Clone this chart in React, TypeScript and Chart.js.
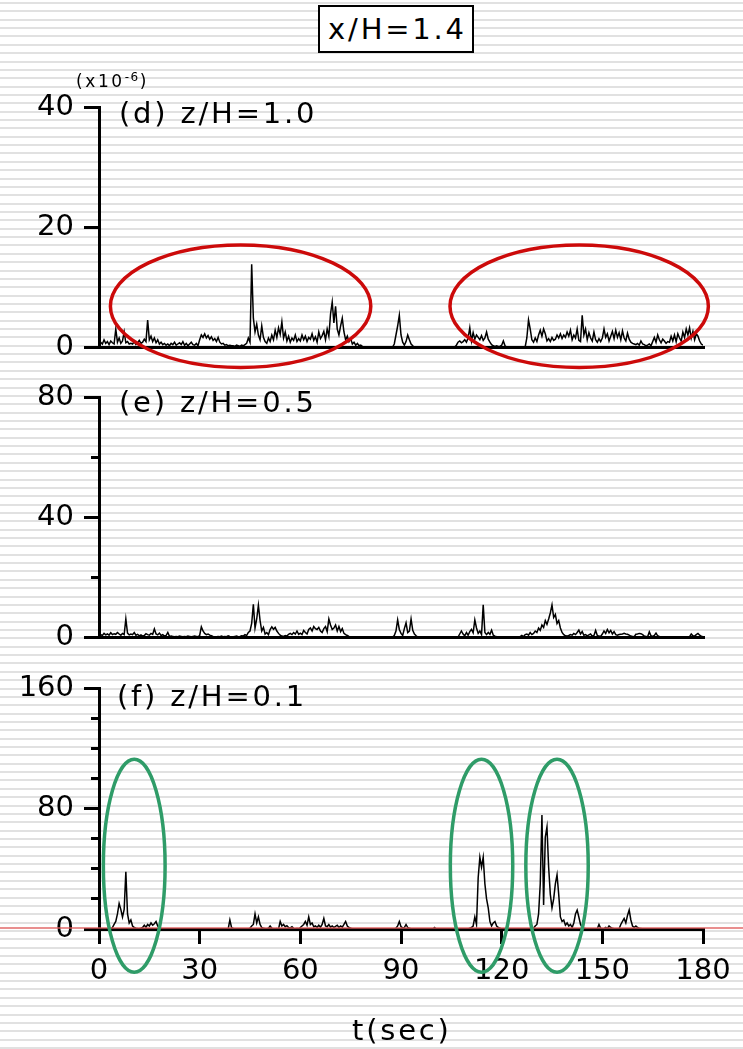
import React, { useEffect, useRef } from "react";
import { Chart, registerables } from "chart.js";

Chart.register(...registerables);

// ---------------- data ----------------
const T_STEP = 0.5; // seconds between samples, series start at t = 0
const T_MIN = 0;
const T_MAX = 180;
const X_TICKS = [0, 30, 60, 90, 120, 150, 180];

// (d) z/H=1.0  (x10^-6)
const SERIES_D = [
  0.3,0.8,0.5,1.2,0.6,0.9,0.4,1.0,0.7,0.5,3.0,0.8,1.5,0.6,1.0,2.5,0.7,0.9,0.5,0.6,
  0.5,0.9,0.4,0.7,1.1,0.6,0.8,1.3,0.9,4.5,1.2,1.8,0.9,1.5,0.7,1.2,0.5,0.8,0.4,0.6,
  0.3,0.5,0.2,0.6,0.4,0.8,0.3,0.5,0.7,0.4,0.9,0.3,0.6,0.2,0.5,0.8,0.4,0.3,0.6,0.2,
  1.2,2.0,1.6,2.2,1.5,1.9,1.3,1.7,1.1,1.4,0.9,1.6,0.8,0.5,0.6,0.3,0.4,0.2,0.3,0.2,
  0.2,0.1,0.3,0.2,0.1,0.3,0.2,0.4,0.6,1.5,0.8,13.8,4.8,2.5,3.8,2.0,1.2,3.5,1.6,0.9,
  0.6,1.5,0.9,2.0,1.2,2.8,1.6,3.2,2.1,4.2,1.5,2.5,1.0,1.8,0.8,1.5,1.1,2.0,0.9,1.4,
  1.0,2.0,1.2,1.8,0.9,1.6,1.3,2.2,1.1,1.7,0.8,2.5,1.4,1.9,2.6,1.2,3.0,1.8,5.5,7.5,
  4.0,6.8,3.0,2.0,3.5,4.8,2.5,1.2,1.8,0.9,1.4,0.5,0.8,0.3,0.6,0.2,0.3,0.1,0,0,
  0,0,0,0,0,0,0,0,0,0,0,0,0,0,0,0,0.5,2.0,3.5,5.3,
  2.0,0.8,0.3,0.9,2.0,1.2,0.5,0.2,0,0,0,0,0,0,0,0,0,0,0,0,
  0,0,0,0,0,0,0,0,0,0,0,0,0,0.3,0.8,1.0,0.7,0.9,1.2,0.8,
  1.5,3.2,1.0,2.4,1.3,2.0,1.6,1.2,1.9,1.1,1.5,2.5,1.3,0.8,0.4,0.2,0.1,0.2,0.1,0.1,
  0.3,1.0,0.2,0,0,0,0,0,0,0,0,0,0,0,0,1.5,4.5,3.0,1.2,0.8,
  1.5,0.9,2.0,2.8,1.8,3.0,2.2,1.0,1.4,0.9,1.6,1.1,1.3,2.0,1.5,2.2,1.4,2.0,1.6,2.5,
  1.8,2.8,1.2,2.0,1.5,3.0,1.1,0.9,5.3,2.0,3.0,1.2,2.4,1.5,1.0,2.5,1.2,0.8,1.4,0.9,
  1.5,3.0,1.6,2.2,1.0,1.8,2.6,1.4,2.8,1.6,2.4,1.2,2.7,1.5,1.0,2.3,1.3,0.8,0.6,0.5,
  0.4,0.6,0.3,1.0,0.5,0.4,0.2,0.3,0.5,0.2,0.9,1.6,0.8,2.0,1.2,0.7,1.3,1.0,0.6,0.9,
  0.8,1.8,1.0,2.0,0.9,2.2,1.5,1.0,2.5,1.6,3.0,2.0,3.2,1.5,2.6,1.2,2.2,1.8,1.0,0.5,
  0.3,
];

// (e) z/H=0.5
const SERIES_E = [
  0.3,0.8,0.5,1.2,0.7,1.0,0.6,1.4,0.8,1.1,0.9,1.5,1.0,0.6,1.2,0.8,6.0,1.3,0.7,1.0,
  0.8,1.5,0.6,0.9,0.4,0.7,0.3,0.5,1.1,0.8,0.6,1.2,0.9,2.7,1.0,0.7,1.3,0.5,0.8,0.3,
  0.5,1.5,0.2,0.3,0.2,0.1,0.2,0.1,0.3,0.2,0.1,0.2,0.1,0.3,0.2,0.1,0.2,0.3,0.2,0.1,
  0.5,3.4,2.0,1.2,0.8,1.0,0.6,0.4,0.2,0.1,0.1,0.2,0.1,0.3,0.1,0.2,0.1,0.4,0.2,0.1,
  0.1,0.2,0.3,0.1,0.2,0.4,0.3,0.8,0.5,1.5,2.0,4.5,10.9,3.0,6.0,10.6,5.5,2.0,3.2,1.0,
  1.5,0.8,2.5,3.4,2.6,3.2,2.0,1.2,0.6,0.3,0.2,0.5,0.3,0.9,1.2,0.8,1.5,1.0,2.0,0.9,
  1.3,0.8,2.2,1.5,1.0,2.5,3.0,2.0,3.5,2.8,2.5,3.2,2.0,1.5,2.8,3.5,1.8,6.0,4.0,2.5,
  3.0,4.0,2.0,3.5,1.8,2.8,1.2,0.8,0.5,0.2,0.1,0,0,0,0,0,0,0,0,0,
  0,0,0,0,0,0,0,0,0,0,0,0,0,0,0,0,0.5,2.0,5.7,2.5,
  1.2,0.5,2.8,4.7,1.5,2.0,6.0,2.2,1.0,0.4,0,0,0,0,0,0,0,0,0,0,
  0,0,0,0,0,0,0,0,0,0,0,0,0,0,0,1.0,2.0,1.0,0.4,1.5,
  0.6,1.8,2.5,1.4,5.7,3.0,1.2,2.0,0.8,10.7,1.5,0.8,1.5,0.9,2.3,0.6,0.3,0.1,0.1,0.1,
  0.1,0.1,0.1,0.1,0.1,0.1,0.1,0.1,0.1,0.1,0.1,0.1,0.5,0.1,0.8,1.0,0.6,1.5,0.8,1.2,
  2.0,1.5,3.0,2.2,4.0,3.2,5.5,4.2,6.0,8.0,10.7,6.5,7.5,4.5,5.5,3.0,1.5,0.8,0.4,0.3,
  0.5,0.8,0.6,1.2,0.8,1.5,2.3,1.0,1.8,0.6,0.8,0.4,0.7,1.0,0.3,0.5,2.2,0.5,0.3,0.2,
  1.0,2.0,1.2,2.5,1.4,2.2,1.0,1.8,0.8,0.6,0.8,0.9,1.0,1.2,1.0,0.9,0.6,0.3,0.2,0.1,
  0.9,1.0,1.2,1.1,0.8,0.3,0.2,0.1,1.7,0.4,0.2,0.5,1.3,0.4,0.2,0.1,0.1,0.1,0.1,0.1,
  0.1,0.1,0.1,0.1,0.1,0.1,0.1,0.1,0.1,0.1,0.1,0.1,0.1,1.0,0.4,0.3,0.8,1.2,0.6,0.3,
  0.1,
];

// (f) z/H=0.1
const SERIES_F = [
  0,0,0,0,0,0,0,0,1.0,3.0,5.0,10.0,17.0,13.0,8.0,13.0,38.0,10.0,4.0,6.0,
  2.0,1.0,0.5,0.3,0.2,0.5,1.0,2.5,1.2,3.0,2.0,4.0,2.5,3.5,5.0,2.0,0.8,0.3,0,0,
  0,0,0,0,0,0,0,0,0,0,0,0,0,0,0,0,0,0,0,0,
  0,0,0,0,0,0,0,0,0,0,0,0,0,0,0,0,0,0,6.0,1.0,
  0.3,0,0,0,0,0,0,0,0,0,0.5,2.0,3.0,10.0,4.0,8.0,3.0,1.0,0.5,0.3,
  0.2,0.5,2.0,0.5,0.2,0,0.3,0,5.0,2.0,3.0,1.5,2.2,1.0,0.8,1.5,0.4,0.2,0.3,0.1,
  1.0,2.0,3.0,5.0,2.5,8.0,3.0,4.0,1.5,2.0,1.0,2.5,1.2,3.0,7.0,2.0,1.5,3.0,1.2,2.0,
  1.0,1.8,2.5,1.0,2.0,1.2,3.0,5.0,2.0,1.0,0.5,0.2,0,0,0,0,0,0,0,0,
  0,0,0,0,0,0,0,0,0,0,0,0,0,0,0,0,0,0.5,2.0,5.0,
  1.5,0.8,1.0,3.0,1.0,0.5,0.2,0,0,0,0,0,0,0,0,0,0,0,0,0,
  1.0,0,0,0,0,0,0,0,0,0,0,0,0,0,0,0,0,0,0,0,
  0,0.5,1.0,2.0,8.0,3.0,34.0,47.6,41.0,47.6,30.0,20.0,14.0,5.0,2.0,4.0,5.0,2.0,1.0,0.5,
  0,0,0,0,0,0,0,0,0,0,0,0,0,0,0,0,0,0,0.3,0.5,
  2.0,3.0,10.0,30.0,75.7,16.0,61.0,67.7,41.0,23.0,14.0,20.0,30.0,36.0,23.0,8.0,5.0,6.0,2.5,4.0,
  2.0,3.0,1.0,4.0,10.0,12.6,8.0,3.0,1.0,0.5,0.3,0.2,0.2,0.2,0.2,0.2,0.2,0.2,3.0,0.5,
  0.3,0.2,1.0,0.2,2.0,1.0,0.5,0.2,0.2,0.2,0.2,3.0,5.0,7.0,4.0,9.0,12.6,6.0,2.0,1.0,
  2.0,1.0,0.5,0.3,0,0,0,0,0,0,0,0,0,0,0,0,0,0,0,0,
  0,0,0,0,0,0,0,0,0,0,0,0,0,0,0,0,0,0,0,0,
  0,
];

// highlight ellipses in data units: centre t, centre value, half-width (s), half-height (value)
const ELLIPSES_D = [
  { t: 42.2, v: 6.8, dt: 38.8, dv: 10.2 },
  { t: 143.1, v: 6.8, dt: 38.5, dv: 10.2 },
];
const ELLIPSES_F = [
  { t: 10.5, v: 42.0, dt: 9.2, dv: 70.7 },
  { t: 114.0, v: 42.0, dt: 9.3, dv: 70.7 },
  { t: 136.5, v: 42.0, dt: 9.3, dv: 70.7 },
];

// ---------------- styling / layout ----------------
const FONT = "'DejaVu Sans', 'Liberation Sans', sans-serif";
const W = 743;

const overlayPlugin = {
  id: "overlay",
  afterDraw(chart: any, _args: any, opts: any) {
    const { ctx } = chart;
    const xs = chart.scales.x;
    const ys = chart.scales.y;
    ctx.save();
    if (opts.zeroLine) {
      const y0 = ys.getPixelForValue(0) - 1;
      ctx.strokeStyle = opts.zeroLine;
      ctx.lineWidth = 1.3;
      ctx.beginPath();
      ctx.moveTo(0, y0);
      ctx.lineTo(chart.width, y0);
      ctx.stroke();
    }
    (opts.ellipses || []).forEach((e: any) => {
      const cx = xs.getPixelForValue(e.t);
      const cy = ys.getPixelForValue(e.v);
      const rx = Math.abs(xs.getPixelForValue(e.t + e.dt) - cx);
      const ry = Math.abs(ys.getPixelForValue(e.v + e.dv) - cy);
      ctx.strokeStyle = opts.ellipseColor;
      ctx.lineWidth = 3.5;
      ctx.beginPath();
      ctx.ellipse(cx, cy, rx, ry, 0, 0, Math.PI * 2);
      ctx.stroke();
    });
    ctx.restore();
  },
};

type Panel = {
  values: number[];
  yMax: number;
  majorStep: number;
  minorStep: number | null;
  showX: boolean;
  top: number;
  height: number;
  padTop: number;
  padBottom: number;
  ellipses: any[];
  ellipseColor: string;
  zeroLine: string | null;
};

// chart areas: (d) y 107..347, (e) y 397..637, (f) y 688..929, x 99..703
const PANELS: Panel[] = [
  { values: SERIES_D, yMax: 40, majorStep: 20, minorStep: null, showX: false, top: 50, height: 360, padTop: 57, padBottom: 63, ellipses: ELLIPSES_D, ellipseColor: "#cc0a0a", zeroLine: null },
  { values: SERIES_E, yMax: 80, majorStep: 40, minorStep: 20, showX: false, top: 340, height: 360, padTop: 57, padBottom: 63, ellipses: [], ellipseColor: "#000", zeroLine: null },
  { values: SERIES_F, yMax: 160, majorStep: 80, minorStep: 20, showX: true, top: 630, height: 419, padTop: 58, padBottom: 50, ellipses: ELLIPSES_F, ellipseColor: "#2f9c68", zeroLine: "rgba(222,90,90,0.9)" },
];

function buildChart(canvas: HTMLCanvasElement, p: Panel) {
  const data = p.values.map((v, i) => ({ x: T_MIN + i * T_STEP, y: v }));
  const scales: any = {
    x: {
      type: "linear",
      min: T_MIN,
      max: T_MAX,
      position: "bottom",
      afterBuildTicks: (s: any) => {
        s.ticks = X_TICKS.map((v) => ({ value: v }));
      },
      ticks: {
        display: p.showX,
        autoSkip: false,
        maxRotation: 0,
        color: "#000",
        padding: 10,
        font: { family: FONT, size: 29 },
      },
      grid: { display: p.showX, drawOnChartArea: false, tickLength: 15, lineWidth: 3, color: "#000" },
      border: { display: true, width: 3, color: "#000" },
      afterFit: (s: any) => {
        s.height = p.showX ? 70 : 0;
      },
    },
    y: {
      type: "linear",
      min: 0,
      max: p.yMax,
      position: "left",
      weight: 1,
      ticks: { stepSize: p.majorStep, color: "#000", padding: 10, font: { family: FONT, size: 29 } },
      grid: { drawOnChartArea: false, tickLength: 15, lineWidth: 3, color: "#000" },
      border: { display: true, width: 3, color: "#000" },
      afterFit: (s: any) => {
        s.width = 99;
      },
    },
  };
  if (p.minorStep) {
    scales.yMinor = {
      type: "linear",
      min: 0,
      max: p.yMax,
      position: "left",
      weight: 0,
      ticks: { display: false, stepSize: p.minorStep },
      grid: { drawOnChartArea: false, tickLength: 8, lineWidth: 3, color: "#000" },
      border: { display: false },
      afterFit: (s: any) => {
        s.width = 0;
      },
    };
  }
  return new Chart(canvas, {
    type: "line",
    data: {
      datasets: [
        {
          data,
          borderColor: "#000",
          borderWidth: 1.5,
          pointRadius: 0,
          fill: false,
          tension: 0,
          yAxisID: "y",
        },
      ],
    },
    options: {
      animation: false,
      responsive: false,
      devicePixelRatio: 1,
      events: [],
      layout: { padding: { top: p.padTop, bottom: p.padBottom, left: 0, right: 40 } },
      scales,
      plugins: {
        legend: { display: false },
        tooltip: { enabled: false },
        overlay: { ellipses: p.ellipses, ellipseColor: p.ellipseColor, zeroLine: p.zeroLine },
      } as any,
    },
    plugins: [overlayPlugin],
  });
}

const textStyle: React.CSSProperties = {
  position: "absolute",
  fontFamily: FONT,
  fontSize: 29,
  lineHeight: "29px",
  letterSpacing: "2.8px",
  color: "#000",
  whiteSpace: "nowrap",
};

export default function App() {
  const refs = [useRef<HTMLCanvasElement>(null), useRef<HTMLCanvasElement>(null), useRef<HTMLCanvasElement>(null)];

  useEffect(() => {
    const charts = PANELS.map((p, i) => buildChart(refs[i].current as HTMLCanvasElement, p));
    return () => charts.forEach((c) => c.destroy());
  }, []);

  return (
    <div
      style={{
        position: "absolute",
        left: 0,
        top: 0,
        width: W,
        height: 1049,
        overflow: "hidden",
        background:
          "repeating-linear-gradient(to bottom, #ffffff 0px, #ffffff 2px, #e1e1e1 2px, #e1e1e1 4px, #ffffff 4px, #ffffff 8.36px)",
      }}
    >
      {PANELS.map((p, i) => (
        <canvas
          key={i}
          ref={refs[i]}
          width={W}
          height={p.height}
          style={{ position: "absolute", left: 0, top: p.top, width: W, height: p.height }}
        />
      ))}
      <div
        style={{
          ...textStyle,
          left: 318,
          top: 5,
          width: 156,
          height: 48,
          boxSizing: "border-box",
          border: "2px solid #000",
          background: "#fff",
          display: "flex",
          alignItems: "center",
          justifyContent: "center",
          paddingLeft: 3,
        }}
      >
        x/H=1.4
      </div>
      <div style={{ ...textStyle, left: 76, top: 68, fontSize: 17, lineHeight: "19px", letterSpacing: "2.6px" }}>
        (x10<sup style={{ fontSize: 12, verticalAlign: "6px", letterSpacing: "1.5px" }}>-6</sup>)
      </div>
      <div style={{ ...textStyle, left: 119, top: 99 }}>(d) z/H=1.0</div>
      <div style={{ ...textStyle, left: 119, top: 388 }}>(e) z/H=0.5</div>
      <div style={{ ...textStyle, left: 117, top: 682 }}>(f) z/H=0.1</div>
      <div style={{ ...textStyle, left: 352, top: 1016 }}>t(sec)</div>
    </div>
  );
}
